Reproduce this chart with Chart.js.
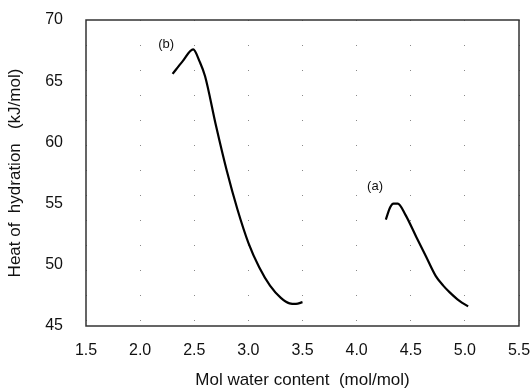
<!DOCTYPE html>
<html>
<head>
<meta charset="utf-8">
<script src="https://cdn.jsdelivr.net/npm/chart.js@4"></script>
<style>
  html, body { margin: 0; padding: 0; background: #fff; }
  #wrap { width: 531px; height: 391px; }
</style>
</head>
<body>
<div id="wrap"><canvas id="myChart"></canvas></div>
<script>
// curve (b)
let bX = [2.30, 2.39, 2.49, 2.55, 2.60, 2.70, 2.80, 2.90, 3.00, 3.10, 3.20, 3.30, 3.38, 3.44, 3.50];
let bY = [65.6, 66.6, 67.6, 66.6, 65.4, 61.4, 57.7, 54.5, 51.8, 49.8, 48.3, 47.3, 46.85, 46.8, 46.95];
// curve (a)
let aX = [4.27, 4.31, 4.34, 4.38, 4.45, 4.55, 4.64, 4.73, 4.80, 4.86, 4.95, 5.03];
let aY = [53.7, 54.7, 55.0, 55.0, 54.1, 52.3, 50.7, 49.1, 48.3, 47.75, 47.05, 46.6];

let curveNames = ["(b)", "(a)"];
let nameX = [2.24, 4.17];
let nameY = [68.0, 56.4];

let xTicks = [1.5, 2.0, 2.5, 3.0, 3.5, 4.0, 4.5, 5.0, 5.5];
let yTicks = [45, 50, 55, 60, 65, 70];

const pts = (xs, ys) => xs.map((x, i) => ({x: x, y: ys[i]}));

const font = "'Liberation Sans', Arial, sans-serif";

// frame round the plot + curve names
const frame = {
  id: "frame",
  afterDraw(chart) {
    const {ctx, scales: {x, y}} = chart;
    const l = x.getPixelForValue(x.min), r = x.getPixelForValue(x.max);
    const t = y.getPixelForValue(y.max), b = y.getPixelForValue(y.min);
    ctx.save();
    ctx.strokeStyle = "#333";
    ctx.lineWidth = 1.5;
    ctx.strokeRect(l, t, r - l, b - t);
    ctx.fillStyle = "#111";
    ctx.font = "13px " + font;
    ctx.textAlign = "center";
    ctx.textBaseline = "middle";
    curveNames.forEach((n, i) => {
      ctx.fillText(n, x.getPixelForValue(nameX[i]), y.getPixelForValue(nameY[i]));
    });
    ctx.restore();
  }
};

new Chart("myChart", {
  type: "scatter",
  data: {
    datasets: [
      {data: pts(bX, bY)},
      {data: pts(aX, aY)}
    ]
  },
  options: {
    responsive: true,
    maintainAspectRatio: false,
    animation: false,
    showLine: true,
    layout: {padding: {top: 20, right: 12, left: 0, bottom: 0}},
    elements: {
      point: {radius: 0},
      line: {borderColor: "#000", borderWidth: 2.2, cubicInterpolationMode: "monotone"}
    },
    plugins: {
      legend: {display: false},
      tooltip: {enabled: false}
    },
    scales: {
      x: {
        type: "linear",
        min: 1.5,
        max: 5.5,
        afterBuildTicks: s => { s.ticks = xTicks.map(v => ({value: v})); },
        afterFit: s => { s.height = 65; s.paddingLeft = 0; s.paddingRight = 0; },
        ticks: {
          color: "#111",
          font: {family: font, size: 16},
          padding: 15,
          callback: v => v.toFixed(1)
        },
        grid: {color: "#888", lineWidth: 1, drawTicks: false},
        border: {display: false, dash: [1, 24]},
        title: {
          display: true,
          text: "Mol water content  (mol/mol)",
          color: "#111",
          font: {family: font, size: 17},
          padding: {top: 0, bottom: 0}
        }
      },
      y: {
        min: 45,
        max: 70,
        afterBuildTicks: s => { s.ticks = yTicks.map(v => ({value: v})); },
        afterFit: s => { s.width = 86; s.paddingTop = 0; s.paddingBottom = 0; },
        ticks: {
          color: "#111",
          font: {family: font, size: 16},
          padding: 23
        },
        grid: {display: false, drawTicks: false},
        border: {display: false},
        title: {
          display: true,
          text: "Heat of  hydration   (kJ/mol)",
          color: "#111",
          font: {family: font, size: 17},
          padding: {top: 5, bottom: 0}
        }
      }
    }
  },
  plugins: [frame]
});
</script>
</body>
</html>
